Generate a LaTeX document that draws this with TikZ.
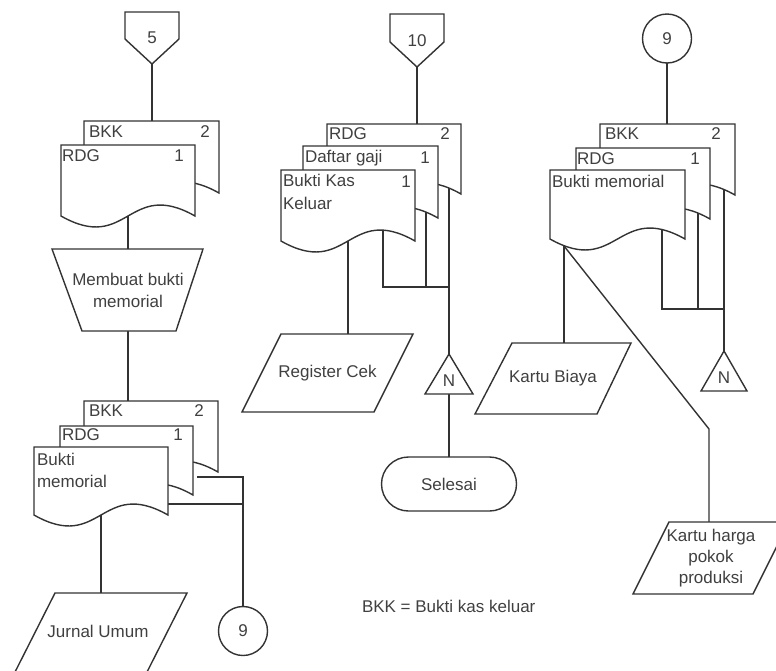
\documentclass[tikz,border=0pt]{standalone}
\usepackage{fontspec}
\setmainfont{Liberation Sans}
\usetikzlibrary{calc}
\pgfdeclarelayer{bg}
\pgfsetlayers{bg,main}
\definecolor{ink}{HTML}{333333}
\definecolor{txt}{HTML}{404040}
\tikzset{
  ln/.style={draw=ink, line width=1.4pt, line join=miter},
  shp/.style={ln, fill=white},
  hid/.style={inner sep=0pt, outer sep=0pt, draw=none},
  lbl/.style={inner sep=0pt, anchor=west},
  num/.style={inner sep=0pt},
}
\newcommand{\flowdoc}[5]{%
  \pgfmathsetmacro{\dR}{#2+#4}%
  \pgfmathsetmacro{\dB}{#3+#5}%
  \pgfmathsetmacro{\dM}{#2+0.5*#4}%
  \pgfmathsetmacro{\dCy}{#3+0.5*#5}%
  \node[hid, minimum width=#4pt, minimum height=#5pt] (#1) at (\dM,-\dCy) {};%
  \path[shp] (#2,-#3) -- (\dR,-#3) -- (\dR,-\dB) .. controls (\dM,-\dB+38) and (\dM,-\dB-38) .. (#2,-\dB) -- cycle;%
}
\begin{document}
\begin{tikzpicture}[x=1pt,y=1pt, every node/.style={font=\fontsize{17}{22}\selectfont, text=txt, outer sep=0pt}]
\useasboundingbox (0,0) rectangle (776,-670);
\clip (0,0) rectangle (776,-670);

% ---------- Column 1 top ----------
\path[shp] (125,-12) -- (179,-12) -- (179,-39) -- (152,-64) -- (125,-39) -- cycle;
\node[hid, minimum width=54pt, minimum height=52pt] (p5) at (152,-38) {5};
\flowdoc{aback}{84}{121}{135}{72}
\flowdoc{afront}{61}{145}{134}{71}
\node[lbl] (aback1) at (89,-132) {BKK};
\node[num] (aback2) at (205,-132) {2};
\node[lbl] (afront1) at (62,-156) {RDG};
\node[num] (afront2) at (179,-156) {1};

\path[shp] (52,-249) -- (203,-249) -- (176,-331) -- (82,-331) -- cycle;
\node[hid, minimum width=151pt, minimum height=82pt, align=center] (mb) at (128,-290) {Membuat bukti\\memorial};

% ---------- Column 1 bottom ----------
\flowdoc{bback}{84}{401}{134}{71}
\flowdoc{bmid}{60}{426}{133}{69}
\flowdoc{bfront}{34}{447}{134}{68}
\node[lbl] (bback1) at (89,-411) {BKK};
\node[num] (bback2) at (199,-411) {2};
\node[lbl] (bmid1) at (62,-435) {RDG};
\node[num] (bmid2) at (178,-435) {1};
\node[lbl] (bfront1) at (37,-459) {Bukti};
\node[lbl] (bfront2) at (37,-481) {memorial};

\path[shp] (55,-593) -- (187,-593) -- (146,-674) -- (14,-674) -- cycle;
\node[hid, minimum width=130pt, minimum height=76pt] (jur) at (98,-631) {Jurnal Umum};

\node[shp, circle, minimum size=49pt, inner sep=0pt] (c9a) at (243,-631) {9};

% ---------- Column 2 ----------
\path[shp] (390,-14) -- (444,-14) -- (444,-42) -- (417,-67) -- (390,-42) -- cycle;
\node[hid, minimum width=54pt, minimum height=53pt] (p10) at (417,-40.5) {10};
\flowdoc{cback}{327}{124}{134}{70}
\flowdoc{cmid}{303}{146}{135}{72}
\flowdoc{cfront}{281}{170}{134}{71}
\node[lbl] (cback1) at (329,-134) {RDG};
\node[num] (cback2) at (445,-134) {2};
\node[lbl] (cmid1) at (305,-158) {Daftar gaji};
\node[num] (cmid2) at (425,-158) {1};
\node[lbl] (cfront1) at (283,-180) {Bukti Kas};
\node[lbl] (cfront2) at (283,-203) {Keluar};
\node[num] (cfront3) at (406,-182) {1};

\path[shp] (281,-334) -- (413,-334) -- (374,-412) -- (242,-412) -- cycle;
\node[hid, minimum width=130pt, minimum height=78pt] (reg) at (327.5,-373) {Register Cek};

\path[shp] (449,-354) -- (473,-394) -- (425,-394) -- cycle;
\node[hid, minimum width=48pt, minimum height=40pt] (tri1) at (449,-374) {};
\node[num] (n1) at (449,-381) {N};

\node[shp, rounded corners=27pt, minimum width=135pt, minimum height=54pt, inner sep=0pt] (sel) at (449,-484) {Selesai};

\node[lbl] (leg) at (362,-606) {BKK = Bukti kas keluar};

% ---------- Column 3 ----------
\node[shp, circle, minimum size=49pt, inner sep=0pt] (c9b) at (667,-38.5) {9};
\flowdoc{dback}{600}{124}{135}{71}
\flowdoc{dmid}{576}{148}{134}{71}
\flowdoc{dfront}{550}{170}{135}{69}
\node[lbl] (dback1) at (605,-134) {BKK};
\node[num] (dback2) at (716,-134) {2};
\node[lbl] (dmid1) at (577,-159) {RDG};
\node[num] (dmid2) at (695,-159) {1};
\node[lbl] (dfront1) at (552,-181) {Bukti memorial};

\path[shp] (724,-351) -- (747,-391) -- (701,-391) -- cycle;
\node[hid, minimum width=46pt, minimum height=40pt] (tri2) at (724,-371) {};
\node[num] (n2) at (724,-378) {N};

\path[shp] (512,-343) -- (631,-343) -- (597,-414) -- (475,-414) -- cycle;
\node[hid, minimum width=120pt, minimum height=71pt] (kb) at (553,-378.5) {Kartu Biaya};

\path[shp] (669,-522) -- (789,-522) -- (753,-594) -- (633,-594) -- cycle;
\node[hid, minimum width=120pt, minimum height=72pt, align=center, font=\fontsize{17}{21}\selectfont] (kh) at (711,-558) {Kartu harga\\pokok\\produksi};

% ---------- Connectors ----------
\begin{pgfonlayer}{bg}
\draw[ln] (p5.south) -- (p5.south |- aback.north);
\draw[ln] (afront.center) -- (afront.center |- mb.north);
\draw[ln] (mb.south) -- (mb.south |- bback.north);
\draw[ln] (bfront.center) -- (bfront.center |- jur.north);
\coordinate (ja) at (197,-477);
\coordinate (jb) at (243,-477);
\coordinate (jc) at (243,-504);
\draw[ln] (ja) -- (jb) -- (c9a.north);
\draw[ln] (bfront.east |- jc) -- (jc);

\draw[ln] (p10.south) -- (p10.south |- cback.north);
\draw[ln] (cfront.center) -- (cfront.center |- reg.north);
\coordinate (k1) at (383,-287);
\coordinate (k2) at (426,-287);
\coordinate (k3) at (449,-287);
\draw[ln] (k1 |- cfront.center) -- (k1) -- (k3);
\draw[ln] (k2 |- cmid.center) -- (k2);
\draw[ln] (k3 |- cback.center) -- (tri1.north);
\draw[ln] (tri1.south) -- (tri1.south |- sel.north);

\draw[ln] (c9b.south) -- (c9b.south |- dback.north);
\coordinate (m1) at (662,-309);
\coordinate (m2) at (698,-309);
\coordinate (m3) at (724,-309);
\draw[ln] (m1 |- dfront.center) -- (m1) -- (m3);
\draw[ln] (m2 |- dmid.center) -- (m2);
\draw[ln] (m3 |- dback.center) -- (tri2.north);
\coordinate (w3) at (564,-246);
\coordinate (bend) at (709,-429);
\draw[ln] (w3) -- (w3 |- kb.north);
\draw[ln] (w3) -- (bend) -- (bend |- kh.north);
\end{pgfonlayer}
\end{tikzpicture}
\end{document}
